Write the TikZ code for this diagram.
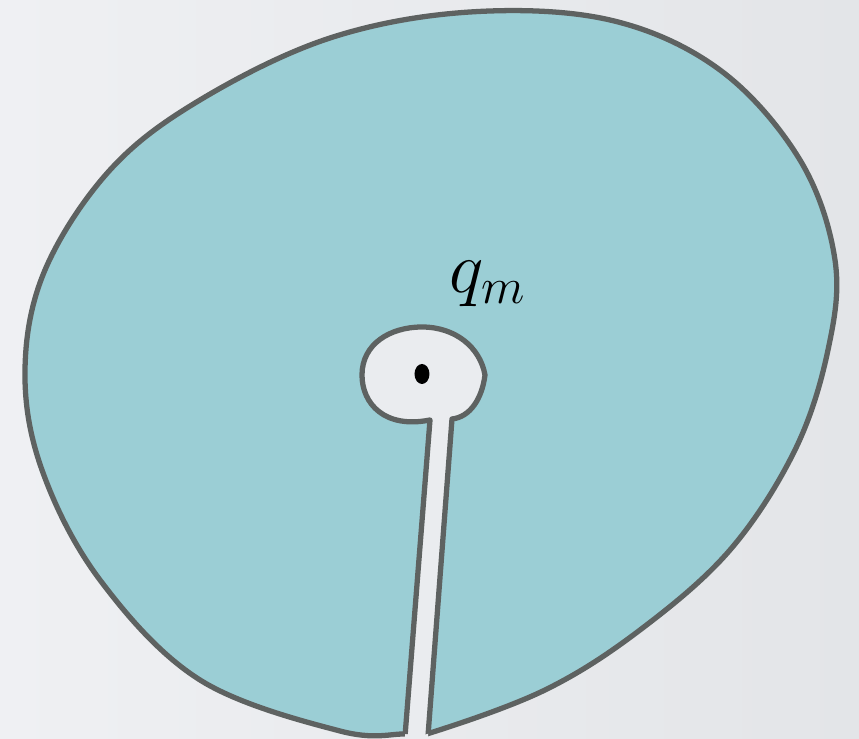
\documentclass[tikz,border=0pt]{standalone}
\usepackage{amsmath}
\definecolor{Canvas}{HTML}{EAECEF}
\definecolor{CanvasLight}{HTML}{EFF0F3}
\definecolor{CanvasDark}{HTML}{E3E5E8}
\definecolor{Region}{HTML}{9BCED5}
\definecolor{Rim}{HTML}{5E6261}
\definecolor{TextInk}{HTML}{000000}
\begin{document}
\begin{tikzpicture}[x=1cm,y=1cm,every node/.style={text=TextInk},rim/.style={draw=Rim,line width=1.5pt,line join=round}]
\shade[left color=CanvasLight,right color=CanvasDark] (0,0) rectangle (8.59,7.39);
\useasboundingbox (0,0) rectangle (8.59,7.39);
% the region
\def\regionpath{plot[smooth cycle,tension=0.6] coordinates {(4.05,0.05) (3.40,0.08) (2.00,0.59) (1.00,1.59) (0.42,2.69) (0.25,3.69) (0.45,4.69) (1.10,5.69) (2.00,6.39) (3.30,7.01) (4.70,7.27) (6.10,7.19) (7.20,6.69) (8.00,5.79) (8.35,4.79) (8.28,3.89) (7.95,2.89) (7.30,1.89) (6.40,1.09) (5.45,0.49) (4.30,0.06)}}
\fill[Region,rim] \regionpath;
% keyhole round the point
\def\holepath{(4.04,-0.10) -- (4.30,3.19) .. controls (3.85,3.10) and (3.62,3.35) .. (3.62,3.64) .. controls (3.62,3.95) and (3.90,4.12) .. (4.22,4.12) .. controls (4.55,4.12) and (4.80,3.92) .. (4.85,3.64) .. controls (4.82,3.40) and (4.70,3.22) .. (4.52,3.20) -- (4.27,-0.10) -- cycle}
\fill[Canvas] \holepath;
\begin{scope}
  \clip \regionpath;
  \draw[rim] (4.04,-0.10) -- (4.30,3.19) .. controls (3.85,3.10) and (3.62,3.35) .. (3.62,3.64) .. controls (3.62,3.95) and (3.90,4.12) .. (4.22,4.12) .. controls (4.55,4.12) and (4.80,3.92) .. (4.85,3.64) .. controls (4.82,3.40) and (4.70,3.22) .. (4.52,3.20) -- (4.27,-0.10);
\end{scope}
\fill[black] (4.22,3.65) ellipse (0.075 and 0.10);
\node[font=\fontsize{22}{26}\selectfont] (qm) at (4.88,4.55) {$q_m$};
\end{tikzpicture}
\end{document}
